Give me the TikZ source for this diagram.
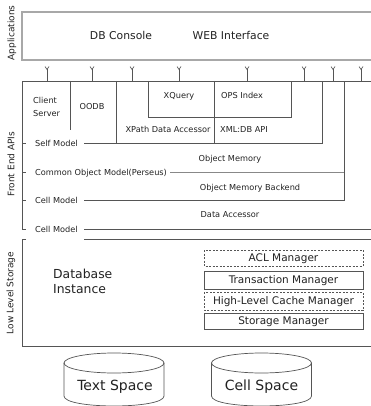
\documentclass[tikz,border=0pt]{standalone}
\usepackage{fontspec}
\setmainfont{DejaVu Sans}
\definecolor{lncol}{HTML}{555555}
\definecolor{lightln}{HTML}{A8A8A8}
\definecolor{txtcol}{HTML}{222222}
\begin{document}
\begin{tikzpicture}[x=1pt,y=-1pt,
  ln/.style={draw=lncol, line width=0.8pt},
  appln/.style={draw=lightln, line width=1.2pt},
  lbl/.style={inner sep=0pt, text=txtcol, font=\fontsize{8.2}{9.5}\selectfont, text height=0.73em, text depth=0pt},
  biglbl/.style={inner sep=0pt, text=txtcol, font=\fontsize{10.8}{12}\selectfont, text height=0.73em, text depth=0pt},
  sidelbl/.style={inner sep=0pt, text=txtcol, font=\fontsize{9}{10}\selectfont, rotate=90},
  mgrbox/.style={draw=lncol, line width=0.8pt, fill=white},
  dashbox/.style={draw=lncol, line width=0.8pt, fill=white, dash pattern=on 2pt off 1.5pt},
  mgrlbl/.style={inner sep=0pt, text=txtcol, font=\fontsize{10.5}{12}\selectfont, text height=0.73em, text depth=0pt},
  spacelbl/.style={inner sep=0pt, text=txtcol, font=\fontsize{14}{16}\selectfont, text height=0.73em, text depth=0pt},
  yconn/.style={draw=lncol, line width=0.8pt}
]
\useasboundingbox (0,0) rectangle (371,406);
\clip (0,0) rectangle (371,406);
\fill[white] (0,0) rectangle (371,406);

% ---------- Applications ----------
\draw[appln] (375,12) -- (22,12) -- (22,60) -- (375,60);
\node[sidelbl] (appsl) at (12,33) {Applications};
\node[biglbl] (dbc) at (121,36) {DB Console};
\node[biglbl] (web) at (231,36) {WEB Interface};

% ---------- Y connectors ----------
\foreach \xx in {47,92,132,179,247,304,333,361}{
  \draw[yconn] (\xx,81) -- (\xx,69.5);
  \draw[yconn, line width=0.6pt] (\xx-2,66.5) -- (\xx,69.5) -- (\xx+2,66.5);
}

% ---------- Front End APIs ----------
\node[sidelbl] (fesl) at (11,164) {Front End APIs};
\draw[ln] (375,81) -- (22,81) -- (22,229) -- (26,229);
\foreach \yy in {143,172,200}{ \draw[ln] (22,\yy) -- (26,\yy); }
\draw[ln] (70,81) -- (70,130);
\draw[ln] (116,81) -- (116,143);
\draw[ln] (84,143) -- (322,143) -- (322,81);
\draw[ln] (148,81) -- (148,117) -- (291,117) -- (291,81);
\draw[ln] (214,81) -- (214,143);
\draw[ln, draw=lncol!70] (170,172) -- (344,172);
\draw[ln] (84,200) -- (344,200) -- (344,81);
\draw[ln] (84,229) -- (375,229);

\node[lbl, anchor=west] (cli) at (33,100) {Client};
\node[lbl, anchor=west] (srv) at (33,113) {Server};
\node[lbl] (oodb) at (92,106) {OODB};
\node[lbl] (xq) at (179,95) {XQuery};
\node[lbl, anchor=west] (ops) at (221,95) {OPS Index};
\node[lbl] (xpath) at (168,129) {XPath Data Accessor};
\node[lbl, anchor=west] (xmldb) at (220,129) {XML:DB API};
\node[lbl, anchor=west] (self) at (35,143) {Self Model};
\node[lbl] (om) at (230,158) {Object Memory};
\node[lbl, anchor=west] (com) at (35,172) {Common Object Model(Perseus)};
\node[lbl] (omb) at (250,187) {Object Memory Backend};
\node[lbl, anchor=west] (cm1) at (35,200) {Cell Model};
\node[lbl] (da) at (230,214) {Data Accessor};
\node[lbl, anchor=west] (cm2) at (35,229) {Cell Model};

% ---------- Low Level Storage ----------
\node[sidelbl] (llsl) at (11,293) {Low Level Storage};
\draw[ln] (26,239) -- (22,239) -- (22,346) -- (375,346);
\draw[ln] (84,239) -- (375,239);
\node[font=\fontsize{12.4}{15}\selectfont, text=txtcol, inner sep=0pt, anchor=north west, align=left] (dbi) at (53,269) {Database\\Instance};

\draw[dashbox] (204,250) rectangle (363,266);
\node[mgrlbl] (acl) at (283.5,258) {ACL Manager};
\draw[mgrbox] (204,271) rectangle (363,289);
\node[mgrlbl] (tm) at (283.5,280) {Transaction Manager};
\draw[dashbox] (204,292) rectangle (363,310);
\node[mgrlbl] (hlc) at (283.5,301) {High-Level Cache Manager};
\draw[mgrbox] (204,313) rectangle (363,329);
\node[mgrlbl] (sm) at (283.5,321) {Storage Manager};

% ---------- Cylinders ----------
\foreach \cx/\nm in {114/ts,261.5/cs}{
  \draw[ln, line width=0.7pt] (\cx-50,363) -- (\cx-50,396) .. controls (\cx-50,409.3) and (\cx+50,409.3) .. (\cx+50,396) -- (\cx+50,363);
  \draw[ln, line width=0.7pt] (\cx,363) ellipse [x radius=50pt, y radius=10pt];
}
\node[spacelbl] (tsl) at (115,387) {Text Space};
\node[spacelbl] (csl) at (261.5,387) {Cell Space};
\end{tikzpicture}
\end{document}
